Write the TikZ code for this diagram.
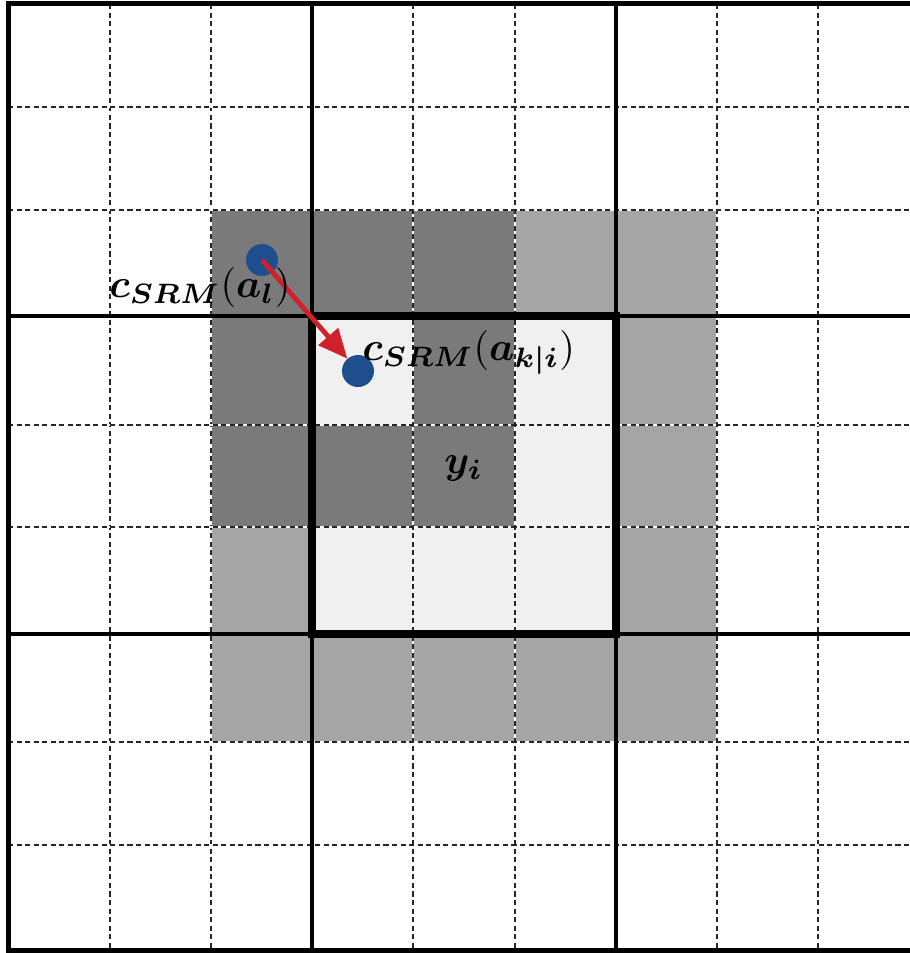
\documentclass[tikz,border=0pt]{standalone}
\usepackage{amsmath,bm}
\usetikzlibrary{arrows.meta}
\definecolor{darkcell}{HTML}{7A7A7A}
\definecolor{lightcell}{HTML}{A5A5A5}
\definecolor{palecell}{HTML}{F0F0F0}
\definecolor{dotblue}{HTML}{1F4E8F}
\definecolor{arrowred}{HTML}{D0202A}
\newcommand{\biglbl}[1]{\scalebox{3.0}{#1}}
\begin{document}
\begin{tikzpicture}[x=0.75pt,y=-0.75pt,
  thin dash/.style={line width=1.1pt,dash pattern=on 3.8pt off 2.6pt,black!85},
  thin under/.style={line width=1.1pt,white},
  major/.style={line width=2.6pt,black},
  border/.style={line width=3.5pt,black},
  centre/.style={line width=6pt,black},
  dot/.style={circle,fill=dotblue,minimum size=24pt,inner sep=0pt},
  lbl/.style={inner sep=0pt,anchor=base west}]
\useasboundingbox (0,0) rectangle (910,953);
\fill[white] (0,0) rectangle (910,953);
% dark cells
\fill[darkcell] (211,210) rectangle (515,316);
\fill[darkcell] (211,316) rectangle (312,527);
\fill[darkcell] (413,316) rectangle (515,527);
\fill[darkcell] (312,425) rectangle (413,527);
% light cells
\fill[lightcell] (515,210) rectangle (717,316);
\fill[lightcell] (616,316) rectangle (717,742);
\fill[lightcell] (211,527) rectangle (312,742);
\fill[lightcell] (211,634) rectangle (717,742);
% pale cells
\fill[palecell] (312,316) rectangle (413,425);
\fill[palecell] (515,316) rectangle (616,527);
\fill[palecell] (312,527) rectangle (616,634);
% dashed fine grid
\foreach \x in {110,211,413,515,717,818}{
  \draw[thin under] (\x,4) -- (\x,950);
  \draw[thin dash] (\x,4) -- (\x,950);}
\foreach \y in {107,210,425,527,742,845}{
  \draw[thin under] (8,\y) -- (910,\y);
  \draw[thin dash] (8,\y) -- (910,\y);}
% major grid
\foreach \x in {312,616}{\draw[major] (\x,4) -- (\x,950);}
\foreach \y in {316,634}{\draw[major] (8,\y) -- (910,\y);}
% borders
\draw[border] (910,3.5) -- (8.5,3.5) -- (8.5,950.5) -- (910,950.5);
% centre square
\draw[centre] (312,316) rectangle (616,634);
% points and arrow
\node[dot] (d1) at (262,260) {};
\node[dot] (d2) at (358,371) {};
\draw[arrowred,line width=3.6pt,-{Triangle[length=22pt,width=19pt]}] (d1.center) -- (d2);
% labels
\node[lbl] (lab1) at (109,297) {\biglbl{$\bm{c}_{\bm{SRM}}(\bm{a}_{\bm{l}})$}};
\node[lbl] (lab2) at (362,360) {\biglbl{$\bm{c}_{\bm{SRM}}(\bm{a}_{\bm{k|i}})$}};
\node[lbl] (laby) at (444,473) {\biglbl{$\bm{y}_{\bm{i}}$}};
\end{tikzpicture}
\end{document}
